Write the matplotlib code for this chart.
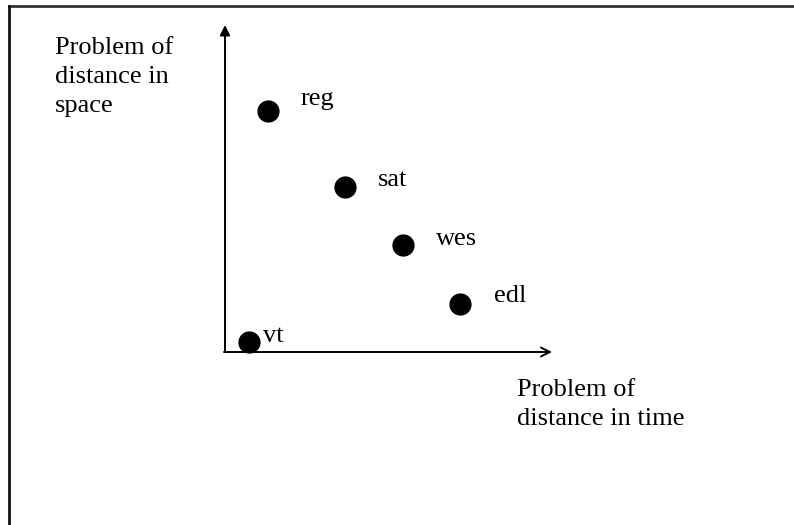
import matplotlib.pyplot as plt
from matplotlib.lines import Line2D

## data (arbitrary units, origin at the axes corner)
labels = ["reg", "sat", "wes", "edl", "vt"]
time_dist = [1.32, 3.68, 5.43, 7.20, 0.74]
space_dist = [7.41, 5.08, 3.28, 1.48, 0.32]

## label offsets in pixels (right of the dot)
label_dx = [32, 33, 33, 34, 14]
label_dy = [6, 1, 0, 2, 0]

plt.rcParams["font.family"] = ["Liberation Serif", "DejaVu Serif"]

fig = plt.figure(figsize=(7.94, 5.25), dpi=100)
fig.patch.set_facecolor("white")

## page border (only top and left edges visible)
fig.add_artist(Line2D([9 / 794, 1], [1 - 6 / 525, 1 - 6 / 525], color="#333333", lw=2))
fig.add_artist(Line2D([9 / 794, 9 / 794], [0, 1 - 6 / 525], color="#111111", lw=2))

ax = fig.add_axes([225 / 794, (525 - 352) / 525, (552 - 225) / 794, (352 - 25) / 525])
ax.set_xlim(0, 10)
ax.set_ylim(0, 10.06)
ax.axis("off")

## axes drawn as arrows
ax.annotate("", xy=(0, 1), xytext=(0, 0), xycoords="axes fraction",
            arrowprops=dict(arrowstyle="-|>", lw=1.4, color="black",
                            mutation_scale=15, shrinkA=0, shrinkB=0))
ax.annotate("", xy=(1, 0), xytext=(-0.003, 0), xycoords="axes fraction",
            arrowprops=dict(arrowstyle="->", lw=1.4, color="black",
                            mutation_scale=16, shrinkA=0, shrinkB=0))

ax.plot(time_dist, space_dist, "o", color="black", markersize=15, clip_on=False)

for name, x, y, dx, dy in zip(labels, time_dist, space_dist, label_dx, label_dy):
    ax.annotate(name, (x, y), xytext=(dx, dy), textcoords="offset pixels",
                ha="left", va="baseline", fontsize=19)

fig.text(55 / 794, 1 - 112 / 525, "Problem of\ndistance in\nspace",
         ha="left", va="baseline", fontsize=19, linespacing=1.4)
fig.text(517 / 794, 1 - 425 / 525, "Problem of\ndistance in time",
         ha="left", va="baseline", fontsize=19, linespacing=1.4)

plt.savefig("out.png", dpi=100)
